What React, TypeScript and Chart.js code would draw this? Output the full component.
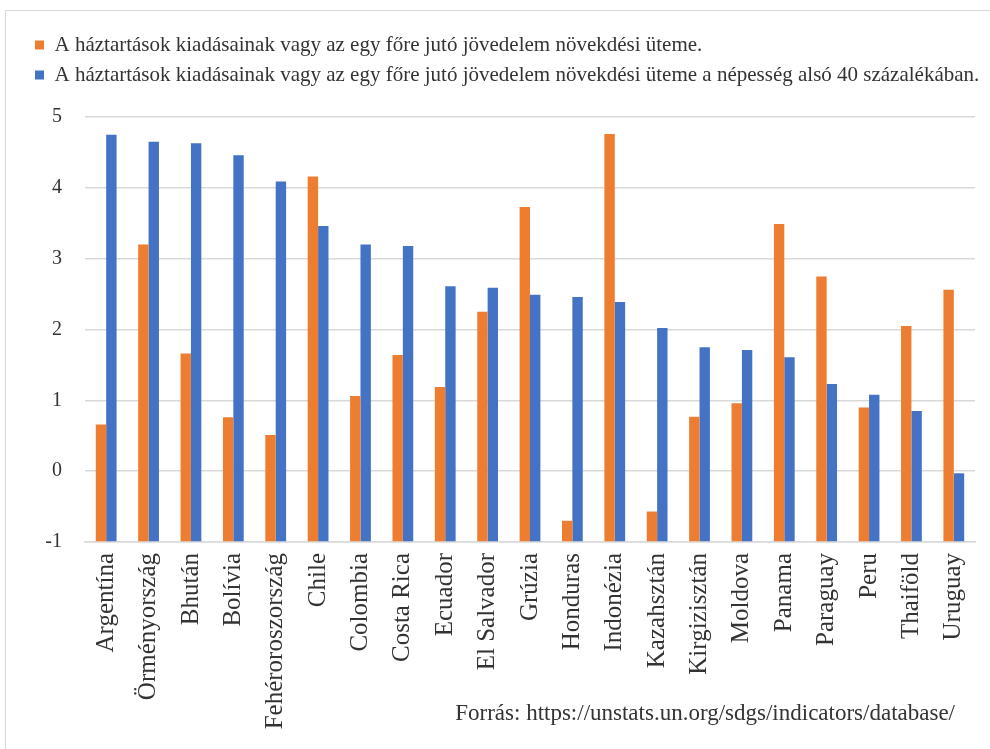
import React, { useEffect, useRef } from "react";
import { Chart, registerables } from "chart.js";

Chart.register(...registerables);

const categories = [
  "Argentína", "Örményország", "Bhután", "Bolívia", "Fehéroroszország", "Chile",
  "Colombia", "Costa Rica", "Ecuador", "El Salvador", "Grúzia", "Honduras",
  "Indonézia", "Kazahsztán", "Kirgizisztán", "Moldova", "Panama", "Paraguay",
  "Peru", "Thaiföld", "Uruguay",
];

const seriesAll = [
  0.66, 3.2, 1.66, 0.76, 0.51, 4.16, 1.06, 1.64, 1.19, 2.25, 3.73, -0.7,
  4.76, -0.57, 0.77, 0.96, 3.49, 2.75, 0.9, 2.05, 2.56,
];

const seriesBottom40 = [
  4.75, 4.65, 4.63, 4.46, 4.09, 3.46, 3.2, 3.18, 2.61, 2.59, 2.49, 2.46,
  2.39, 2.02, 1.75, 1.71, 1.61, 1.23, 1.08, 0.85, -0.03,
];

const seriesNames = [
  "A háztartások kiadásainak vagy az egy főre jutó jövedelem növekdési üteme.",
  "A háztartások kiadásainak vagy az egy főre jutó jövedelem növekdési üteme a népesség alsó 40 százalékában.",
];

const yMin = -1;
const yMax = 5;
const sourceText = "Forrás: https://unstats.un.org/sdgs/indicators/database/";

const FONT = "'Liberation Serif', 'Times New Roman', serif";
const TEXT = "#333333";

export default function App() {
  const ref = useRef<HTMLCanvasElement | null>(null);

  useEffect(() => {
    if (!ref.current) return;
    const legendMargin = {
      id: "legendMargin",
      beforeInit(chart: any) {
        const orig = chart.legend.fit;
        chart.legend.fit = function () {
          orig.bind(chart.legend)();
          this.height += 21.5;
        };
      },
    };
    const chart = new Chart(ref.current, {
      type: "bar",
      data: {
        labels: categories,
        datasets: [
          {
            label: seriesNames[0],
            data: seriesAll,
            backgroundColor: "#ED7D31",
            base: yMin,
          } as any,
          {
            label: seriesNames[1],
            data: seriesBottom40,
            backgroundColor: "#4472C4",
            base: yMin,
          } as any,
        ],
      },
      options: {
        responsive: false,
        animation: false,
        layout: { padding: { left: 26, right: 3, top: 25.5, bottom: 0 } },
        datasets: { bar: { categoryPercentage: 0.49, barPercentage: 1 } },
        plugins: {
          legend: {
            position: "top",
            align: "start",
            labels: {
              boxWidth: 9,
              boxHeight: 9,
              padding: 9,
              color: TEXT,
              font: { family: FONT, size: 21 },
            },
          },
          tooltip: { enabled: false },
        },
        scales: {
          x: {
            grid: { display: false, drawTicks: false },
            border: { display: true, color: "#d9d9d9", width: 1.5 },
            ticks: {
              autoSkip: false,
              maxRotation: 90,
              minRotation: 90,
              padding: 11,
              color: TEXT,
              font: { family: FONT, size: 25 },
            },
            afterFit(scale: any) {
              scale.height = 207;
              scale.paddingLeft = 0;
              scale.paddingRight = 15;
            },
          },
          y: {
            min: yMin,
            max: yMax,
            grid: { color: "#d9d9d9", lineWidth: 1.5, drawTicks: false },
            border: { display: false },
            ticks: {
              stepSize: 1,
              padding: 23,
              color: TEXT,
              font: { family: FONT, size: 20 },
            },
            afterFit(scale: any) {
              scale.width = 59;
            },
          },
        },
      },
      plugins: [legendMargin],
    });
    return () => chart.destroy();
  }, []);

  return (
    <div
      style={{
        position: "absolute",
        left: 0,
        top: 0,
        width: 990,
        height: 749,
        background: "#fff",
        overflow: "hidden",
      }}
    >
      <div
        style={{
          position: "absolute",
          left: 5,
          top: 10,
          width: 1000,
          height: 800,
          borderLeft: "1.5px solid #d9d9d9",
          borderTop: "1.5px solid #d9d9d9",
        }}
      />
      <canvas ref={ref} width={990} height={749} style={{ position: "absolute", left: 0, top: 0 }} />
      <div
        style={{
          position: "absolute",
          right: 35,
          top: 700,
          fontFamily: FONT,
          fontSize: 23,
          color: TEXT,
          whiteSpace: "nowrap",
        }}
      >
        {sourceText}
      </div>
    </div>
  );
}
